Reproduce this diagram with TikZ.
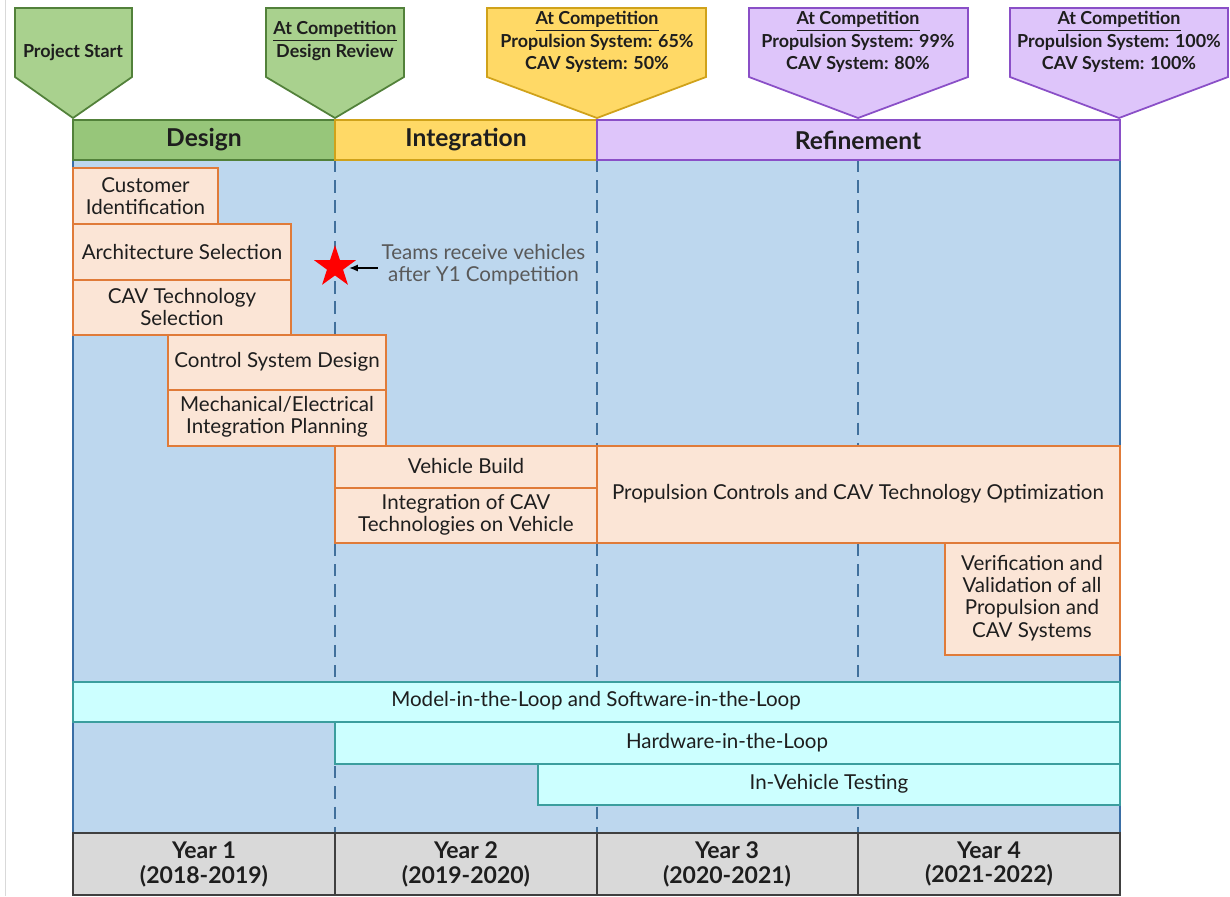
\documentclass[tikz,border=0pt]{standalone}
\usepackage{fontspec}
\setmainfont{Lato}
\usetikzlibrary{arrows.meta,positioning,calc,shapes.geometric}
\definecolor{designfill}{HTML}{97C67A}
\definecolor{pengreen}{HTML}{A9D18E}
\definecolor{greenline}{HTML}{52813A}
\definecolor{integfill}{HTML}{FFD966}
\definecolor{integline}{HTML}{D0A21A}
\definecolor{refinefill}{HTML}{DEC5FA}
\definecolor{refineline}{HTML}{8A4FC7}
\definecolor{bgblue}{HTML}{BDD7EE}
\definecolor{bgline}{HTML}{3A6EA5}
\definecolor{taskfill}{HTML}{FBE5D6}
\definecolor{taskline}{HTML}{E07B39}
\definecolor{loopfill}{HTML}{CCFFFF}
\definecolor{loopline}{HTML}{3B9E9E}
\definecolor{yearfill}{HTML}{D9D9D9}
\definecolor{yearline}{HTML}{404040}
\definecolor{divline}{HTML}{41709C}
\definecolor{notegray}{HTML}{595959}
\definecolor{txt}{HTML}{1E1E1E}

\begin{document}
\begin{tikzpicture}[x=0.02cm,y=-0.02cm,
  every node/.style={font=\fontsize{11.7}{12.6}\selectfont,text=txt,align=center,inner sep=1pt},
  task/.style={fill=taskfill,draw=taskline,line width=1.1pt},
  loopbar/.style={fill=loopfill,draw=loopline,line width=1.1pt},
  phasebar/.style={line width=1.2pt},
  pennant/.style={line width=1pt,line join=miter},
  pentext/.style={font=\fontsize{10.2}{12.7}\selectfont\bfseries},
  phasetext/.style={font=\fontsize{14}{16}\selectfont\bfseries},
  yeartext/.style={font=\fontsize{13.1}{14.2}\selectfont\bfseries}]
\useasboundingbox (0,0) rectangle (1230,896);
\fill[white] (0,0) rectangle (1230,896);
\draw[black!15] (5,0) -- (5,896);
% background and year dividers
\fill[bgblue] (73,160) rectangle (1120,833);
\draw[bgline,line width=0.8pt] (73,160) -- (73,833) (1120,160) -- (1120,833);
\draw[divline,line width=0.9pt,dash pattern=on 7pt off 4.5pt] (335,160) -- (335,833) (597,160) -- (597,833) (858,160) -- (858,833);
% phases
\draw[phasebar,fill=designfill,draw=greenline] (73,120) rectangle (335,160);
\draw[phasebar,fill=integfill,draw=integline] (335,120) rectangle (597,160);
\draw[phasebar,fill=refinefill,draw=refineline] (597,120) rectangle (1120,160);
\node[phasetext] (design) at (204,140) {Design};
\node[phasetext] (integ) at (466,140) {Integration};
\node[phasetext] (refine) at (858,140) {Refinement};
% milestone pennants
\draw[pennant,fill=pengreen,draw=greenline] (15,8)--(132,8)--(132,77)--(73,118)--(15,77)--cycle;
\draw[pennant,fill=pengreen,draw=greenline] (266,8)--(404,8)--(404,77)--(335,118)--(266,77)--cycle;
\draw[pennant,fill=integfill,draw=integline] (487,8)--(706,8)--(706,77)--(597,118)--(487,77)--cycle;
\draw[pennant,fill=refinefill,draw=refineline] (749,8)--(968,8)--(968,77)--(858,118)--(749,77)--cycle;
\draw[pennant,fill=refinefill,draw=refineline] (1010,8)--(1228,8)--(1228,77)--(1119,118)--(1010,77)--cycle;
\node[pentext] (mstart) at (73,52) {Project Start};
\node[pentext] (mreview) at (335,41) {\underline{At Competition}\\Design Review};
\node[pentext] (myear2) at (597,42) {\underline{At Competition}\\Propulsion System: 65\%\\CAV System: 50\%};
\node[pentext] (myear3) at (858,42) {\underline{At Competition}\\Propulsion System: 99\%\\CAV System: 80\%};
\node[pentext] (myear4) at (1119,42) {\underline{At Competition}\\Propulsion System: 100\%\\CAV System: 100\%};
% design tasks
\draw[task] (73,168) rectangle (218,224);
\draw[task] (73,224) rectangle (291,280);
\draw[task] (73,280) rectangle (291,335);
\draw[task] (168,335) rectangle (386,390);
\draw[task] (168,390) rectangle (386,446);
\node (cust) at (145.5,196) {Customer\\Identification};
\node (arch) at (182,252) {Architecture Selection};
\node (cavsel) at (182,307) {CAV Technology\\Selection};
\node (ctrl) at (277,362) {Control System Design};
\node (mech) at (277,417) {Mechanical/Electrical\\Integration Planning};
% integration and refinement tasks
\draw[task] (335,446) rectangle (597,488);
\draw[task] (335,488) rectangle (597,543);
\draw[task] (597,446) rectangle (1120,543);
\draw[task] (945,543) rectangle (1120,655);
\node (build) at (466,466) {Vehicle Build};
\node (integcav) at (466,515) {Integration of CAV\\Technologies on Vehicle};
\node (optim) at (858,494) {Propulsion Controls and CAV Technology Optimization};
\node (verif) at (1032,598) {Verification and\\Validation of all\\Propulsion and\\CAV Systems};
% vehicle delivery
\node[star,star points=5,star point ratio=2.6,minimum size=0.88cm,inner sep=0pt,fill=red] (star) at (335,267) {};
\node[text=notegray] (teams) at (483.5,265) {Teams receive vehicles\\after Y1 Competition};
\draw[-{Latex[length=5pt,width=4pt]},line width=0.9pt,shorten <=1pt,shorten >=1pt] (teams.west |- 0,268) -- (star.east |- 0,268);
% testing
\draw[loopbar] (73,682) rectangle (1120,722);
\draw[loopbar] (335,722) rectangle (1120,764);
\draw[loopbar] (538,764) rectangle (1120,805);
\node (mil) at (596,701) {Model-in-the-Loop and Software-in-the-Loop};
\node (hil) at (727,743) {Hardware-in-the-Loop};
\node (ivt) at (829,784) {In-Vehicle Testing};
% years
\draw[fill=yearfill,draw=yearline,line width=1.2pt] (73,833) rectangle (335,895) (335,833) rectangle (597,895) (597,833) rectangle (858,895) (858,833) rectangle (1120,895);
\node[yeartext] (year1) at (204,864) {Year 1\\(2018-2019)};
\node[yeartext] (year2) at (466,864) {Year 2\\(2019-2020)};
\node[yeartext] (year3) at (727,864) {Year 3\\(2020-2021)};
\node[yeartext] (year4) at (989,864) {Year 4\\(2021-2022)};
\end{tikzpicture}
\end{document}
